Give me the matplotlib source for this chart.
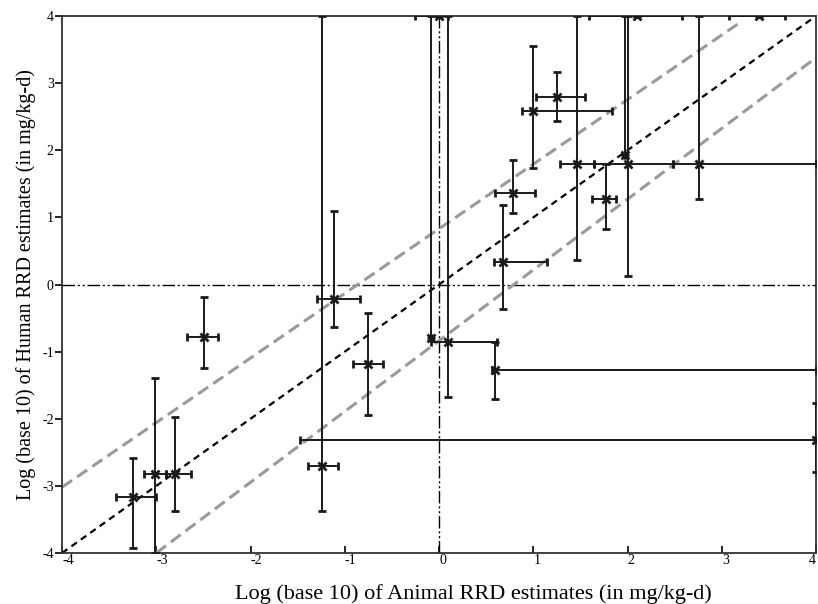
import numpy as np
import matplotlib.pyplot as plt

# point estimates (log10 mg/kg-d) with lower / upper bounds
animal = [-3.25, -3.01, -2.80, -2.49, -1.24, -1.11, -0.75, 4.00, 0.10, -0.09,
          0.59, 0.68, 0.78, 1.00, 1.25, 1.46, 1.77, 2.00, 1.97, 2.76,
          0.00, 2.10, 3.40]
human = [-3.17, -2.82, -2.82, -0.78, -2.71, -0.21, -1.18, -2.31, -0.85, -0.80,
         -1.27, 0.33, 1.37, 2.58, 2.80, 1.79, 1.28, 1.79, 1.93, 1.79,
         4.00, 4.00, 4.00]
animal_lo = [-3.43, -3.13, -2.90, -2.67, -1.39, -1.29, -0.91, -1.48, -0.09, -0.09,
             0.56, 0.58, 0.59, 0.88, 1.03, 1.28, 1.62, 1.64, 1.97, 2.48,
             -0.25, 1.59, 3.08]
animal_hi = [-3.00, -2.90, -2.63, -2.34, -1.07, -0.84, -0.59, 4.00, 0.62, -0.09,
             4.00, 1.15, 1.02, 1.83, 1.55, 1.64, 1.88, 2.48, 1.97, 4.00,
             0.10, 2.58, 3.67]
human_lo = [-3.92, -4.00, -3.37, -1.24, -3.38, -0.64, -1.94, -2.79, -1.68, -0.80,
            -1.70, -0.36, 1.06, 1.74, 2.43, 0.37, 0.82, 0.12, 1.93, 1.27,
            4.00, 4.00, 4.00]
human_hi = [-2.58, -1.39, -1.98, -0.18, 4.00, 1.10, -0.42, -1.76, 4.00, 4.00,
            -0.85, 1.18, 1.85, 3.55, 3.16, 4.00, 1.79, 4.00, 4.00, 4.00,
            4.00, 4.00, 4.00]

# reference lines: identity and the two bands
ident = [-4, 3.95]
upper_x, upper_y = [-4, 3.19], [-3.02, 3.90]
lower_x, lower_y = [-3.0, 4.0], [-4.0, 3.38]

plt.rcParams['font.family'] = ['Liberation Serif', 'DejaVu Serif']
plt.rcParams['axes.unicode_minus'] = False

fig = plt.figure(figsize=(8.18, 6.04), dpi=100)
ax = fig.add_axes([0.0758, 0.0844, 0.9218, 0.8891])

x = np.array(animal)
y = np.array(human)
xerr = [x - np.array(animal_lo), np.array(animal_hi) - x]
yerr = [y - np.array(human_lo), np.array(human_hi) - y]

ax.axhline(0, color='black', lw=1.0, dashes=(9, 2, 1.5, 2, 1.5, 2), zorder=1)
ax.axvline(0, color='black', lw=1.0, dashes=(9, 2, 1.5, 2, 1.5, 2), zorder=1)

ax.plot(upper_x, upper_y, color='#9a9a9a', lw=2.2, dashes=(4, 2), zorder=2)
ax.plot(lower_x, lower_y, color='#9a9a9a', lw=2.2, dashes=(4, 2), zorder=2)
ax.plot(ident, ident, color='black', lw=1.6, dashes=(3, 2.2), zorder=2)

ax.errorbar(x, y, xerr=xerr, yerr=yerr, fmt='x', color='#1a1a1a', ms=6, mew=2,
            elinewidth=1.4, capsize=3, capthick=5, zorder=3)

ax.set_xlim(-4, 4)
ax.set_ylim(-4, 4)
ax.set_xticks(range(-4, 5))
ax.set_yticks(range(-4, 5))
ax.tick_params(axis='x', direction='in', length=5, width=1.2, labelsize=10, pad=1)
ax.tick_params(axis='y', direction='out', length=5, width=1.2, labelsize=10, pad=1)
xlbls = ax.get_xticklabels()
for lbl in xlbls:
    lbl.set_horizontalalignment('left')
xlbls[-1].set_horizontalalignment('right')
for s in ax.spines.values():
    s.set_linewidth(1.3)
    s.set_color('#333333')

ax.set_xlabel('Log (base 10) of Animal RRD estimates (in mg/kg-d)', fontsize=16, labelpad=4)
ax.xaxis.set_label_coords(0.545, -0.058)
ax.set_ylabel('Log (base 10) of Human RRD estimates (in mg/kg-d)', fontsize=14.5, labelpad=4)

fig.savefig('out.png', dpi=100)
